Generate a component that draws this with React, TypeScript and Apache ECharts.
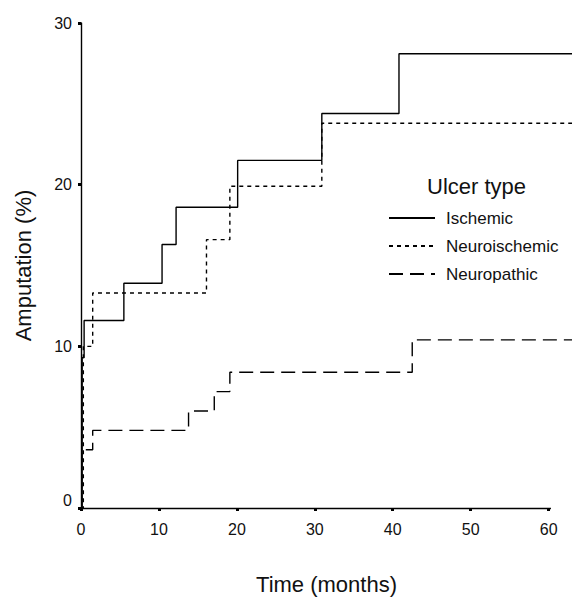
import React, { useEffect, useRef } from "react";
import * as echarts from "echarts";

const seriesNames = ["Ischemic", "Neuroischemic", "Neuropathic"];

const ischemic: [number, number][] = [
  [0, 0], [0.15, 9.3], [0.4, 11.6], [5.5, 13.9], [10.4, 16.3], [12.2, 18.6],
  [20.1, 21.5], [30.9, 24.4], [40.8, 28.1], [63, 28.1],
];
const neuroischemic: [number, number][] = [
  [0, 0], [0.3, 10.0], [1.5, 13.3], [16.1, 16.6], [19.1, 19.9], [30.9, 23.8], [63, 23.8],
];
const neuropathic: [number, number][] = [
  [0, 0], [0.1, 3.6], [1.5, 4.8], [13.8, 6.0], [17.1, 7.2], [19.1, 8.4], [42.5, 10.4], [63, 10.4],
];

const xTicks = [0, 10, 20, 30, 40, 50, 60];
const yTicks = [0, 10, 20, 30];
const xAxisEnd = 60.3;

const FONT = "'Liberation Sans', Arial, sans-serif";

export default function App() {
  const ref = useRef<HTMLDivElement>(null);
  useEffect(() => {
    document.body.style.margin = "0";
    document.body.style.overflow = "hidden";
    const chart = echarts.init(ref.current!, null, { renderer: "svg" });
    const lineBase = { color: "#000", width: 1.4 };
    chart.setOption({
      animation: false,
      backgroundColor: "#fff",
      textStyle: { fontFamily: FONT, color: "#111" },
      title: {
        text: "Ulcer type",
        left: 422,
        top: 170,
        textStyle: { fontFamily: FONT, fontSize: 22, fontWeight: "normal", color: "#111" },
      },
      legend: {
        data: seriesNames,
        orient: "vertical",
        left: 383,
        top: 203,
        itemWidth: 46,
        itemHeight: 14,
        itemGap: 8,
        itemStyle: { opacity: 0 },
        textStyle: { fontFamily: FONT, fontSize: 17, color: "#111", lineHeight: 20, padding: [0, 0, 0, 6] },
      },
      grid: {
        left: 81,
        right: 0,
        top: 23,
        bottom: 91,
        containLabel: false,
        outerBoundsMode: "none",
      },
      xAxis: {
        type: "value",
        min: 0,
        max: 63,
        interval: 10,
        name: "Time (months)",
        nameLocation: "middle",
        nameGap: 65,
        nameTextStyle: { fontFamily: FONT, fontSize: 22, color: "#111" },
        axisLine: { show: false },
        axisTick: {
          show: true,
          length: 3,
          customValues: xTicks,
          lineStyle: { color: "#000", width: 3 },
        },
        axisLabel: {
          fontFamily: FONT,
          fontSize: 16,
          color: "#111",
          margin: 13,
          customValues: xTicks,
          formatter: (v: number) => String(v),
        },
        splitLine: { show: false },
      },
      yAxis: {
        type: "value",
        min: 0,
        max: 30,
        interval: 10,
        name: "Amputation (%)",
        nameLocation: "middle",
        nameGap: 47,
        nameRotate: 90,
        nameTextStyle: { fontFamily: FONT, fontSize: 22, color: "#111" },
        axisLine: { show: true, lineStyle: { color: "#000", width: 1.4 } },
        axisTick: { show: true, length: 3, lineStyle: { color: "#000", width: 3 } },
        axisLabel: {
          fontFamily: FONT,
          fontSize: 16,
          color: "#111",
          margin: 9,
          formatter: (v: number) => (v === 0 ? "{z|0}" : String(v)),
          rich: { z: { fontFamily: FONT, fontSize: 16, color: "#111", padding: [0, 0, 16, 0] } },
        },
        splitLine: { show: false },
      },
      series: [
        {
          name: seriesNames[0],
          type: "line",
          step: "end",
          symbol: "none",
          data: ischemic,
          lineStyle: { ...lineBase, type: "solid" },
          itemStyle: { color: "#000" },
          markLine: {
            silent: true,
            symbol: "none",
            label: { show: false },
            lineStyle: { color: "#000", width: 1.4, type: "solid" },
            data: [[{ coord: [0, yTicks[0]] }, { coord: [xAxisEnd, yTicks[0]] }]],
          },
          z: 3,
        },
        {
          name: seriesNames[1],
          type: "line",
          step: "end",
          symbol: "none",
          data: neuroischemic,
          lineStyle: { ...lineBase, type: [4, 4] },
          itemStyle: { color: "#000" },
          z: 2,
        },
        {
          name: seriesNames[2],
          type: "line",
          step: "end",
          symbol: "none",
          data: neuropathic,
          lineStyle: { ...lineBase, type: [14, 7] },
          itemStyle: { color: "#000" },
          z: 2,
        },
      ],
    });
    return () => chart.dispose();
  }, []);
  return (
    <div
      ref={ref}
      style={{ position: "fixed", left: 0, top: 0, width: 572, height: 599 }}
    />
  );
}
